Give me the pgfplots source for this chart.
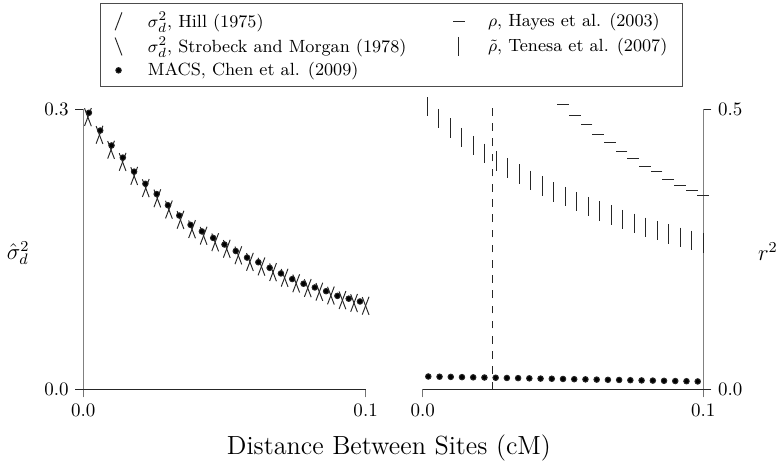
\documentclass[border=0pt]{standalone}
\usepackage{pgfplots}
\pgfplotsset{compat=1.18}
\usepackage{pgfplotstable}

\pgfdeclareplotmark{fslash}{%
  \pgfpathmoveto{\pgfqpoint{-0.38\pgfplotmarksize}{-\pgfplotmarksize}}%
  \pgfpathlineto{\pgfqpoint{0.38\pgfplotmarksize}{\pgfplotmarksize}}%
  \pgfusepathqstroke}
\pgfdeclareplotmark{bslash}{%
  \pgfpathmoveto{\pgfqpoint{-0.38\pgfplotmarksize}{\pgfplotmarksize}}%
  \pgfpathlineto{\pgfqpoint{0.38\pgfplotmarksize}{-\pgfplotmarksize}}%
  \pgfusepathqstroke}

\pgfplotstableread{
x y
0.00164 0.2915
0.00574 0.2725
0.00984 0.2565
0.01393 0.2435
0.01803 0.2285
0.02213 0.2155
0.02623 0.2045
0.03033 0.1925
0.03443 0.1815
0.03852 0.1715
0.04262 0.1645
0.04672 0.1575
0.05082 0.1505
0.05492 0.1435
0.05902 0.1365
0.06311 0.1315
0.06721 0.1255
0.07131 0.1195
0.07541 0.1135
0.07951 0.1085
0.08361 0.1045
0.08770 0.1005
0.09180 0.0955
0.09590 0.0925
0.10000 0.0895
}\hill

\pgfplotstableread{
x y
0.00164 0.2912
0.00574 0.2722
0.00984 0.2562
0.01393 0.2432
0.01803 0.2282
0.02213 0.2152
0.02623 0.2042
0.03033 0.1922
0.03443 0.1812
0.03852 0.1712
0.04262 0.1642
0.04672 0.1572
0.05082 0.1502
0.05492 0.1432
0.05902 0.1362
0.06311 0.1312
0.06721 0.1252
0.07131 0.1192
0.07541 0.1132
0.07951 0.1082
0.08361 0.1042
0.08770 0.1002
0.09180 0.0952
0.09590 0.0922
0.10000 0.0892
}\strobeck

\pgfplotstableread{
x y
0.002 0.296
0.006 0.277
0.010 0.261
0.014 0.248
0.018 0.233
0.022 0.220
0.026 0.209
0.030 0.197
0.034 0.186
0.038 0.176
0.042 0.169
0.046 0.162
0.050 0.155
0.054 0.148
0.058 0.141
0.062 0.136
0.066 0.130
0.070 0.124
0.074 0.118
0.078 0.113
0.082 0.109
0.086 0.105
0.090 0.100
0.094 0.097
0.098 0.094
}\macsleft

\pgfplotstableread{
x y
0.00164 0.504
0.00574 0.483
0.00984 0.466
0.01393 0.449
0.01803 0.435
0.02213 0.421
0.02623 0.407
0.03033 0.395
0.03443 0.384
0.03852 0.373
0.04262 0.363
0.04672 0.352
0.05082 0.344
0.05492 0.335
0.05902 0.326
0.06311 0.318
0.06721 0.311
0.07131 0.303
0.07541 0.296
0.07951 0.289
0.08361 0.283
0.08770 0.277
0.09180 0.271
0.09590 0.266
0.10000 0.261
}\tenesa

\pgfplotstableread{
x y
0.05000 0.509
0.05417 0.489
0.05833 0.472
0.06250 0.455
0.06667 0.440
0.07083 0.424
0.07500 0.411
0.07917 0.398
0.08333 0.388
0.08750 0.375
0.09167 0.364
0.09583 0.354
0.10000 0.346
}\hayes

\pgfplotstableread{
x y
0.002 0.0228
0.006 0.0224
0.010 0.0221
0.014 0.0217
0.018 0.0213
0.022 0.0210
0.026 0.0206
0.030 0.0202
0.034 0.0199
0.038 0.0195
0.042 0.0191
0.046 0.0188
0.050 0.0184
0.054 0.0180
0.058 0.0177
0.062 0.0173
0.066 0.0169
0.070 0.0166
0.074 0.0162
0.078 0.0158
0.082 0.0155
0.086 0.0151
0.090 0.0147
0.094 0.0144
0.098 0.0140
}\macsright

\pgfplotsset{
  common/.style={
    scale only axis, height=147.5pt,
    xmin=0, xmax=0.1, ymin=0,
    xtick={0,0.1}, xticklabels={$0.0$,$0.1$},
    tick align=outside, major tick length=4.2pt,
    x axis line style={-, black!85, line width=0.45pt},
    y axis line style={-, black!50, line width=0.45pt},
    xtick style={black!55, line width=0.45pt},
    ytick style={black!85, line width=0.45pt},
    clip=false,
    font=\normalsize,
  },
  lmark/.style={only marks, mark options={solid, line width=0.5pt, draw=black!85, fill=black}},
  legmark/.style={legend image code/.code={%
    \path[draw=none, fill=none] (0pt,-4pt) rectangle (17pt,4pt);
    \path[draw=none, mark repeat=2, mark phase=2] plot coordinates {(0pt,0pt) (3.5pt,0pt) (17pt,0pt)};}},
}

\begin{document}
\begin{tikzpicture}
\path[use as bounding box] (0,0) rectangle (412.63pt,245.26pt);
\begin{axis}[common,
  at={(43.84pt,40.37pt)}, anchor=south west,
  width=148.6pt, ymax=0.3,
  axis x line*=bottom, axis y line*=left,
  x axis line style={-}, y axis line style={-},
  ytick={0,0.3}, yticklabels={$0.0$,$0.3$},
  ylabel={$\hat{\sigma}_d^2$},
  ylabel style={rotate=-90, at={(axis description cs:-0.231,0.486)}, anchor=center, font=\large},
  xlabel={Distance Between Sites (cM)},
  xlabel style={at={(axis description cs:1.0825,-0.209)}, anchor=center, font=\fontsize{13.8pt}{16pt}\selectfont},
  legend columns=2,
  legend cell align=left,
  legend style={at={(axis description cs:0.0592,1.3785)}, anchor=north west,
    draw=black!70, line width=0.5pt, fill=white, font=\fontsize{9.3pt}{11.2pt}\selectfont,
    inner xsep=6pt, inner ysep=2.5pt,
    /tikz/row sep=-0.6pt,
    /tikz/column 2/.style={column sep=22pt}},
]
\addplot[lmark, mark=fslash, mark size=4.7pt, forget plot] table {\hill};
\addplot[lmark, mark=bslash, mark size=4.7pt, forget plot] table {\strobeck};
\addplot[lmark, mark=*, mark size=1.45pt, forget plot] table {\macsleft};

\addlegendimage{lmark, legmark, mark=fslash, mark size=4.7pt}
\addlegendentry{$\sigma_d^2$, Hill (1975)}
\addlegendimage{lmark, legmark, mark=-, mark size=3.1pt}
\addlegendentry{$\rho$, Hayes et al. (2003)}
\addlegendimage{lmark, legmark, mark=bslash, mark size=4.7pt}
\addlegendentry{$\sigma_d^2$, Strobeck and Morgan (1978)}
\addlegendimage{lmark, legmark, mark=|, mark size=5.1pt}
\addlegendentry{$\tilde{\rho}$, Tenesa et al. (2007)}
\addlegendimage{lmark, legmark, mark=*, mark size=1.45pt}
\addlegendentry{MACS, Chen et al. (2009)}
\end{axis}

\begin{axis}[common,
  at={(222.47pt,40.37pt)}, anchor=south west,
  width=147.7pt, ymax=0.5,
  axis x line*=bottom, axis y line*=right,
  x axis line style={-}, y axis line style={-},
  ytick={0,0.5}, yticklabels={$0.0$,$0.5$},
  ylabel={$r^2$},
  ylabel style={rotate=-90, at={(axis description cs:1.230,0.49)}, anchor=center, font=\large},
]
\addplot[black!85, line width=0.5pt, dash pattern=on 4pt off 4pt, forget plot] coordinates {(0.025,0) (0.025,0.507)};
\addplot[lmark, mark=|, mark size=5.1pt, forget plot] table {\tenesa};
\addplot[lmark, mark=-, mark size=3.1pt, forget plot] table {\hayes};
\addplot[lmark, mark=*, mark size=1.45pt, forget plot] table {\macsright};
\end{axis}
\end{tikzpicture}
\end{document}
